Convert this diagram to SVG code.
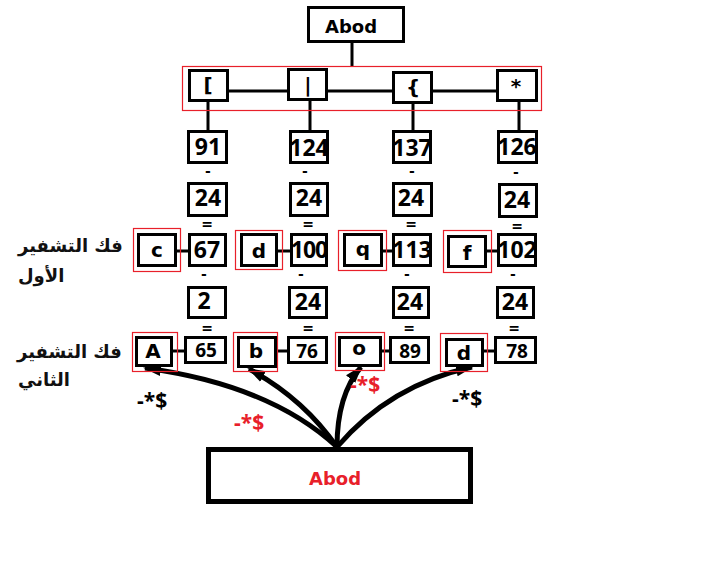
<svg xmlns="http://www.w3.org/2000/svg" width="703" height="587" viewBox="0 0 703 587">
<defs>
<style>
.bx{fill:#fff;stroke:#000;stroke-width:3}
.rd{fill:none;stroke:#e8202a;stroke-width:1.2}
.ln{stroke:#000;stroke-width:3;fill:none}
.cv{stroke:#000;stroke-width:5;fill:none;marker-end:url(#ah)}
.num{font-family:"Open Sans","DejaVu Sans",sans-serif;font-weight:bold;font-size:23px;text-anchor:middle;fill:#000}
.sm{font-size:19px}
.let{font-family:"DejaVu Sans",sans-serif;font-weight:bold;font-size:20px;text-anchor:middle;fill:#000}
.ar{font-family:"DejaVu Sans","Noto Sans",sans-serif;font-weight:bold;font-size:18px;fill:#111}
.op{font-family:"DejaVu Sans",sans-serif;font-weight:bold;font-size:14px;text-anchor:middle;fill:#000}
.sg{font-family:"Open Sans","DejaVu Sans",sans-serif;font-weight:bold;font-size:21px}
</style>
<marker id="ah" markerUnits="userSpaceOnUse" markerWidth="22" markerHeight="16" refX="16" refY="8" orient="auto">
<path d="M0,2 L18,8 L0,14 Z" fill="#000"/>
</marker>
</defs>
<rect width="703" height="587" fill="#fff"/>

<g id="connectors">
<line class="ln" x1="352" y1="42" x2="352" y2="66"/>
<line class="ln" x1="228" y1="91" x2="289" y2="91"/>
<line class="ln" x1="327" y1="91" x2="394" y2="91"/>
<line class="ln" x1="432" y1="91" x2="498" y2="91"/>
<line class="ln" x1="208" y1="101" x2="208" y2="131"/>
<line class="ln" x1="310" y1="100" x2="310" y2="131"/>
<line class="ln" x1="413" y1="103" x2="413" y2="131"/>
<line class="ln" x1="519" y1="101" x2="519" y2="131"/>
<line class="ln" x1="176" y1="251" x2="190" y2="251"/>
<line class="ln" x1="277" y1="251" x2="292" y2="251"/>
<line class="ln" x1="382" y1="251" x2="394" y2="251"/>
<line class="ln" x1="486" y1="251" x2="499" y2="251"/>
<line class="ln" x1="172" y1="351" x2="186" y2="351"/>
<line class="ln" x1="276" y1="351" x2="289" y2="351"/>
<line class="ln" x1="381" y1="351" x2="391" y2="351"/>
<line class="ln" x1="483" y1="351" x2="496" y2="351"/>
<path class="cv" d="M337,447 Q270,385 145,368"/>
<path class="cv" d="M337,447 Q303,398 249,369"/>
<path class="cv" d="M337,447 Q337,395 361,367"/>
<path class="cv" d="M337,447 Q390,385 472,367"/>
</g>

<g id="top">
<rect class="bx" x="308.5" y="7.5" width="95" height="34"/>
<text class="let" x="351" y="33" style="font-size:18px">Abod</text>
</g>
<rect id="group-box" class="rd" x="182.5" y="66.5" width="359" height="44"/>
<g id="n-bracket"><rect class="bx" x="189.5" y="70.5" width="38" height="30"/><text class="let" x="208" y="92">[</text></g>
<g id="n-pipe"><rect class="bx" x="288.5" y="69.5" width="38" height="30"/><text class="let" x="308" y="92">|</text></g>
<g id="n-brace"><rect class="bx" x="393.5" y="72.5" width="38" height="30"/><text class="let" x="413" y="94">{</text></g>
<g id="n-star"><rect class="bx" x="497.5" y="70.5" width="39" height="30"/><text class="let" x="516" y="93">*</text></g>

<g id="n-91"><rect class="bx" x="188.5" y="131.5" width="38" height="31"/><text class="num" x="208" y="155">91</text></g>
<g id="n-124"><rect class="bx" x="290.5" y="131.5" width="37" height="31"/><text class="num" x="309" y="156">124</text></g>
<g id="n-137"><rect class="bx" x="393.5" y="131.5" width="37" height="31"/><text class="num" x="412" y="156">137</text></g>
<g id="n-126"><rect class="bx" x="498.5" y="131.5" width="38" height="31"/><text class="num" x="517" y="155">126</text></g>

<g id="ops1">
<text class="op" x="208" y="176">-</text>
<text class="op" x="305" y="176">-</text>
<text class="op" x="412" y="176">-</text>
<text class="op" x="516" y="177">-</text>
</g>

<g id="n-24a"><rect class="bx" x="188.5" y="183.5" width="38" height="32"/><text class="num" x="208" y="206">24</text></g>
<g id="n-24b"><rect class="bx" x="290.5" y="183.5" width="37" height="32"/><text class="num" x="309" y="206">24</text></g>
<g id="n-24c"><rect class="bx" x="393.5" y="183.5" width="38" height="32"/><text class="num" x="411" y="206">24</text></g>
<g id="n-24d"><rect class="bx" x="499.5" y="184.5" width="37" height="32"/><text class="num" x="517" y="208">24</text></g>

<g id="ops2">
<text class="op" x="207" y="229">=</text>
<text class="op" x="308" y="229">=</text>
<text class="op" x="411" y="229">=</text>
<text class="op" x="517" y="231">=</text>
</g>

<text class="ar" x="18" y="252">فك التشفير</text>
<text class="ar" x="18" y="282">الأول</text>

<g id="n-c"><rect class="rd" x="133.5" y="228.5" width="47" height="43"/><rect class="bx" x="138.5" y="234.5" width="37" height="31"/><text class="let" x="157" y="257">c</text></g>
<g id="n-67"><rect class="bx" x="189.5" y="234.5" width="36" height="31"/><text class="num" x="207" y="258">67</text></g>
<g id="n-d1"><rect class="rd" x="235.5" y="230.5" width="47" height="39"/><rect class="bx" x="241.5" y="234.5" width="35" height="31"/><text class="let" x="259" y="258">d</text></g>
<g id="n-100"><rect class="bx" x="291.5" y="234.5" width="35" height="31"/><text class="num" x="309" y="258" style="letter-spacing:-1px">100</text></g>
<g id="n-q"><rect class="rd" x="338.5" y="230.5" width="48" height="40"/><rect class="bx" x="344.5" y="234.5" width="37" height="31"/><text class="let" x="363" y="256">q</text></g>
<g id="n-113"><rect class="bx" x="393.5" y="234.5" width="37" height="31"/><text class="num" x="412" y="258">113</text></g>
<g id="n-f"><rect class="rd" x="443.5" y="230.5" width="48" height="42"/><rect class="bx" x="448.5" y="236.5" width="37" height="30"/><text class="let" x="467" y="260">f</text></g>
<g id="n-102"><rect class="bx" x="498.5" y="234.5" width="37" height="31"/><text class="num" x="517" y="258">102</text></g>

<g id="ops3">
<text class="op" x="204" y="279">-</text>
<text class="op" x="301" y="279">-</text>
<text class="op" x="407" y="279">-</text>
<text class="op" x="513" y="279">-</text>
</g>

<g id="n-2"><rect class="bx" x="188.5" y="287.5" width="37" height="30"/><text class="num" x="204" y="309">2</text></g>
<g id="n-24e"><rect class="bx" x="289.5" y="287.5" width="37" height="30"/><text class="num" x="308" y="310">24</text></g>
<g id="n-24f"><rect class="bx" x="393.5" y="287.5" width="35" height="30"/><text class="num" x="410" y="310">24</text></g>
<g id="n-24g"><rect class="bx" x="497.5" y="287.5" width="36" height="30"/><text class="num" x="515" y="310">24</text></g>

<g id="ops4">
<text class="op" x="207" y="333">=</text>
<text class="op" x="308" y="333">=</text>
<text class="op" x="409" y="333">=</text>
<text class="op" x="514" y="333">=</text>
</g>

<text class="ar" x="17" y="358">فك التشفير</text>
<text class="ar" x="18" y="386">الثاني</text>

<g id="n-A"><rect class="rd" x="132.5" y="332.5" width="45" height="39"/><rect class="bx" x="136.5" y="337.5" width="35" height="28"/><text class="let" x="153" y="358">A</text></g>
<g id="n-65"><rect class="bx" x="185.5" y="337.5" width="40" height="25"/><text class="num sm" x="206" y="357">65</text></g>
<g id="n-b"><rect class="rd" x="233.5" y="332.5" width="44" height="39"/><rect class="bx" x="238.5" y="337.5" width="37" height="29"/><text class="let" x="256" y="358">b</text></g>
<g id="n-76"><rect class="bx" x="288.5" y="337.5" width="38" height="25"/><text class="num sm" x="307" y="358">76</text></g>
<g id="n-o"><rect class="rd" x="335.5" y="332.5" width="49" height="38"/><rect class="bx" x="339.5" y="337.5" width="41" height="28"/><text class="let" x="359" y="355">o</text></g>
<g id="n-89"><rect class="bx" x="390.5" y="337.5" width="38" height="25"/><text class="num sm" x="410" y="358">89</text></g>
<g id="n-d2"><rect class="rd" x="440.5" y="333.5" width="47" height="38"/><rect class="bx" x="446.5" y="339.5" width="36" height="26"/><text class="let" x="464" y="360">d</text></g>
<g id="n-78"><rect class="bx" x="495.5" y="337.5" width="40" height="25"/><text class="num sm" x="517" y="358">78</text></g>

<g id="labels">
<text class="sg" x="137" y="408" style="fill:#000">-*$</text>
<text class="sg" x="234" y="430" style="fill:#e8202a">-*$</text>
<text class="sg" x="350" y="392" style="fill:#e8202a">-*$</text>
<text class="sg" x="452" y="406" style="fill:#000">-*$</text>
</g>

<g id="bottom">
<rect x="208.5" y="449.5" width="262" height="52" fill="#fff" stroke="#000" stroke-width="5"/>
<text class="let" x="335" y="485" style="font-size:18px;fill:#e8202a">Abod</text>
</g>
</svg>
